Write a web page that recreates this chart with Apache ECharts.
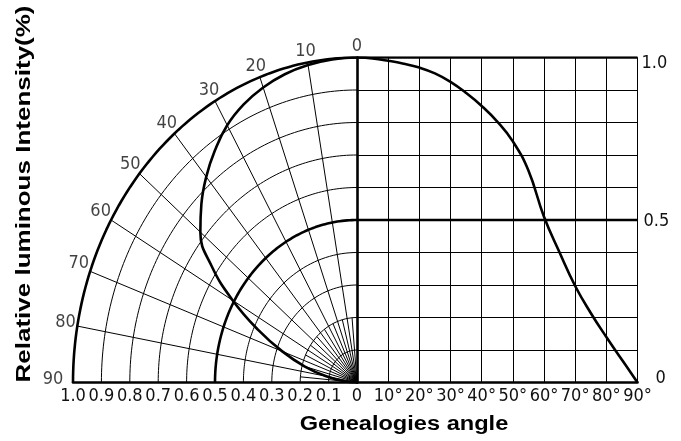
<!DOCTYPE html>
<html><head><meta charset="utf-8">
<script src="https://cdn.jsdelivr.net/npm/echarts@6/dist/echarts.min.js"></script>
<style>html,body{margin:0;padding:0;background:#fff}#c{width:681px;height:441px}</style>
</head><body><div id="c"></div>
<script>
// ---- data ----
const angles = [0,5,10,15,20,25,30,35,40,45,50,55,60,65,70,75,80,85,90];
// relative intensity read from the rectangular (right) plot
const intensity = [1.0,0.997,0.99,0.981,0.969,0.951,0.925,0.891,0.851,0.803,0.742,0.652,0.51,0.40,0.297,0.214,0.14,0.07,0];
// relative intensity read from the polar (left) plot
const polarIntensity = [1.0,0.998,0.992,0.982,0.966,0.944,0.914,0.872,0.826,0.775,0.72,0.625,0.505,0.385,0.28,0.19,0.11,0.045,0];
const radiusTicks = [0.1,0.2,0.3,0.4,0.5,0.6,0.7,0.8,0.9,1.0];
const radiusLabels = ['1.0','0.9','0.8','0.7','0.6','0.5','0.4','0.3','0.2','0.1','0'];
const angleTicks = [0,10,20,30,40,50,60,70,80,90];
const angleTickLabels = ['0','10','20','30','40','50','60','70','80','90'];
const degreeLabels = ['0','10°','20°','30°','40°','50°','60°','70°','80°','90°'];
const rightValueTicks = [0,0.5,1.0];
const rightValueLabels = ['0','0.5','1.0'];
const yTitle = 'Relative luminous Intensity(%)';
const xTitle = 'Genealogies angle';

// ---- helpers ----
const rad = d => d*Math.PI/180;
const toXY = (r, deg) => [-r*Math.sin(rad(deg)), r*Math.cos(rad(deg))];
const arcSteps = Array.from({length:91}, (_, i) => i);
const FONT = '"Liberation Sans Narrow","DejaVu Sans Condensed",sans-serif';
const base = {type:'line', symbol:'none', silent:true, xAxisIndex:0, yAxisIndex:0, animation:false};

const series = [];
radiusTicks.forEach(r => {
  const thick = (Math.abs(r-0.5)<1e-9 || Math.abs(r-1)<1e-9);
  series.push(Object.assign({}, base, {
    data: arcSteps.map(d => toXY(r, d)),
    lineStyle:{color:'#000', width: thick ? 2.6 : 1}
  }));
});
angleTicks.filter(a => a>0 && a<90).forEach(a => {
  series.push(Object.assign({}, base, {data:[[0,0], toXY(1,a)], lineStyle:{color:'#000', width:1}}));
});
angleTicks.slice(0,-1).forEach(a => {
  series.push(Object.assign({}, base, {data:[[0,0], toXY(0.2,a+5)], lineStyle:{color:'#000', width:1}}));
});
// polar curve
series.push(Object.assign({}, base, {
  data: angles.map((a,i) => toXY(polarIntensity[i], a)), smooth:0.45,
  lineStyle:{color:'#000', width:2.6}
}));
// angle labels around the outer arc
series.push({
  type:'scatter', xAxisIndex:0, yAxisIndex:0, silent:true, clip:false, animation:false,
  symbolSize:1, itemStyle:{color:'transparent'},
  data: angleTicks.map((a,i) => {
    const s = Math.sin(rad(a)), c = Math.cos(rad(a));
    return {value: toXY(1, a), name: angleTickLabels[i],
      label:{offset:[-12*s - (a>=90 ? 8 : 0), -3 - 8*Math.sqrt(Math.max(c,0)) + (a>=80 && a<90 ? 3 : 0)]}};
  }),
  label:{show:true, position:'inside', formatter: p => p.name,
    fontFamily:FONT, fontSize:18, color:'#111'}
});
// right cartesian curve
series.push({type:'line', xAxisIndex:1, yAxisIndex:1, symbol:'none', silent:true, animation:false,
  data: angles.map((a,i) => [a, intensity[i]]), smooth:0.45, lineStyle:{color:'#000', width:2.6}});
// thick reference lines at 1.0 and 0.5
[1.0, 0.5].forEach(v => series.push({type:'line', xAxisIndex:1, yAxisIndex:1, symbol:'none', silent:true, animation:false,
  data:[[0,v],[90,v]], lineStyle:{color:'#000', width:2.6}}));

const labelStyle = {fontFamily:FONT, fontSize:18, color:'#111'};
const option = {
  animation:false,
  grid:[
    {left:73, top:57.5, width:284, height:325},
    {left:357, top:57.5, width:280.5, height:325}
  ],
  xAxis:[
    {type:'value', gridIndex:0, min:-1, max:0, interval:0.1,
      axisLine:{show:true, onZero:false, lineStyle:{color:'#000', width:2.6}},
      axisTick:{show:false}, splitLine:{show:false},
      axisLabel:Object.assign({show:true, margin:5, showMinLabel:true, showMaxLabel:true,
        formatter: v => radiusLabels[Math.round((v+1)*10)]}, labelStyle)},
    {type:'value', gridIndex:1, min:0, max:90, interval:10,
      axisLine:{show:true, onZero:false, lineStyle:{color:'#000', width:2.6}},
      axisTick:{show:false},
      splitLine:{show:true, lineStyle:{color:'#000', width:1}},
      axisLabel:Object.assign({show:true, margin:5, showMinLabel:true, showMaxLabel:true,
        formatter: v => { const i = Math.round(v/10); return i===0 ? '' : degreeLabels[i]; }}, labelStyle)}
  ],
  yAxis:[
    {type:'value', gridIndex:0, min:0, max:1, show:false},
    {type:'value', gridIndex:1, min:0, max:1, interval:0.1, position:'right',
      axisLine:{show:true, lineStyle:{color:'#000', width:2.6}},
      axisTick:{show:false},
      splitLine:{show:true, lineStyle:{color:'#000', width:1}},
      axisLabel:Object.assign({show:true, margin:4, showMinLabel:true, showMaxLabel:true,
        formatter: v => {
          const i = rightValueTicks.findIndex(t => Math.abs(t-v)<1e-6);
          if (i < 0) return '';
          return '{' + ['z','h','o'][i] + '|' + rightValueLabels[i] + '}';
        },
        rich:{
          z:{fontFamily:FONT, fontSize:18, color:'#111', padding:[0,0,8,14]},
          h:{fontFamily:FONT, fontSize:18, color:'#111', padding:[2,0,0,2]},
          o:{fontFamily:FONT, fontSize:18, color:'#111', padding:[12,0,0,0]}
        }}, labelStyle)}
  ],
  graphic:[
    {type:'text', x:24, y:194, rotation:Math.PI/2, scaleX:1.3, silent:true,
      style:{text:yTitle, font:'bold 20px "Liberation Sans", Arial, sans-serif', fill:'#000', align:'center', verticalAlign:'middle'}},
    {type:'text', x:404, y:424, scaleX:1.18, silent:true,
      style:{text:xTitle, font:'bold 20px "Liberation Sans", Arial, sans-serif', fill:'#000', align:'center', verticalAlign:'middle'}}
  ],
  series: series
};
const chart = echarts.init(document.getElementById('c'), null, {renderer:'canvas'});
chart.setOption(option);
</script>
</body></html>
